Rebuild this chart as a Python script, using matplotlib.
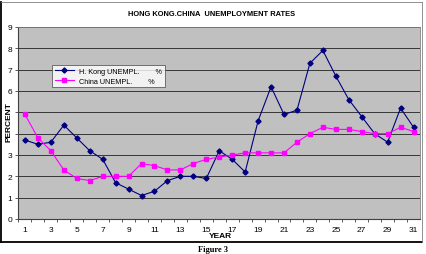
import matplotlib
matplotlib.use("Agg")
import matplotlib.pyplot as plt
from matplotlib.lines import Line2D

years = list(range(1, 32))
hk = [3.7, 3.5, 3.6, 4.4, 3.8, 3.2, 2.8, 1.7, 1.4, 1.1, 1.3, 1.8, 2.0, 2.0, 1.9,
      3.2, 2.8, 2.2, 4.6, 6.2, 4.9, 5.1, 7.3, 7.9, 6.7, 5.6, 4.8, 4.0, 3.6, 5.2, 4.3]
china = [4.9, 3.8, 3.2, 2.3, 1.9, 1.8, 2.0, 2.0, 2.0, 2.6, 2.5, 2.3, 2.3, 2.6, 2.8,
         2.9, 3.0, 3.1, 3.1, 3.1, 3.1, 3.6, 4.0, 4.3, 4.2, 4.2, 4.1, 4.0, 4.0, 4.3, 4.1]
xtick_labels = [str(v) for v in range(1, 32, 2)]
yticks = list(range(0, 10))
# labels 4 and 5 are covered by the axis title in the reference
ytick_labels = ['0', '1', '2', '3', '', '', '6', '7', '8', '9']

plt.rcParams['font.family'] = ['Liberation Sans', 'DejaVu Sans']

W, H = 427, 255
fig = plt.figure(figsize=(W / 100, H / 100), dpi=100)
fig.patch.set_facecolor('white')

def px(x0, y0, x1, y1):
    return [x0 / W, 1 - y1 / H, (x1 - x0) / W, (y1 - y0) / H]

ax = fig.add_axes(px(18.5, 28, 420, 220))
ax.set_facecolor('#C0C0C0')

ax.plot(years, hk, color='#000080', marker='D', markersize=2.6, linewidth=0.8,
        label='H. Kong UNEMPL.        %', zorder=3)
ax.plot(years, china, color='#FF00FF', marker='s', markersize=2.8, linewidth=0.8,
        label='China UNEMPL.        %', zorder=3)

ax.set_xlim(0.5, 31.5)
ax.set_ylim(0, 9)
ax.set_yticks(yticks)
ax.set_yticklabels(ytick_labels, fontsize=6)
ax.set_xticks(list(range(1, 32, 2)))
ax.set_xticklabels(xtick_labels, fontsize=6)
ax.set_xticks([v + 0.5 for v in range(0, 31)], minor=True)
ax.tick_params(axis='x', which='major', length=0, pad=5)
ax.tick_params(axis='x', which='minor', length=2.5, width=0.6, color='#404040', direction='out')
ax.tick_params(axis='y', length=2.5, width=0.6, color='#404040', pad=2)

for v in range(1, 10):
    ax.axhline(v, color='#202020', linewidth=0.6, zorder=1)

for side in ['top', 'right']:
    ax.spines[side].set_color('#808080')
    ax.spines[side].set_linewidth(0.6)
for side in ['left', 'bottom']:
    ax.spines[side].set_color('#404040')
    ax.spines[side].set_linewidth(0.8)

leg = ax.legend(loc='upper left', bbox_to_anchor=((52 - 18.5) / 401.5, (220 - 66) / 192),
                fontsize=5.2, frameon=True, fancybox=False, borderpad=0.4,
                handlelength=2.6, labelspacing=0.35, borderaxespad=0)
leg.get_frame().set_edgecolor('#404040')
leg.get_frame().set_linewidth(0.6)
leg.get_frame().set_facecolor('white')

fig.text(212 / W, 1 - 15 / H, 'HONG KONG.CHINA  UNEMPLOYMENT RATES', ha='center', va='center',
         fontsize=5.4, fontweight='bold')
fig.text(220 / W, 1 - 237 / H, 'YEAR', ha='center', va='center', fontsize=6, fontweight='bold')
fig.text(9 / W, 1 - 122 / H, 'PERCENT', ha='center', va='center', rotation=90,
         fontsize=6, fontweight='bold')
fig.text(213 / W, 1 - 250 / H, 'Figure 3', ha='center', va='center', fontsize=6,
         fontweight='bold', family=['Liberation Serif', 'DejaVu Serif'])

# outer chart border
fig.add_artist(Line2D([1.5 / W, 1.5 / W], [1 - 3 / H, 1 - 243 / H], color='black', linewidth=1.3))
fig.add_artist(Line2D([1.5 / W, 422 / W], [1 - 243 / H, 1 - 243 / H], color='black', linewidth=1.3))
fig.add_artist(Line2D([1.5 / W, 422 / W], [1 - 3 / H, 1 - 3 / H], color='#808080', linewidth=0.6))
fig.add_artist(Line2D([422 / W, 422 / W], [1 - 3 / H, 1 - 243 / H], color='#808080', linewidth=0.6))

fig.savefig('out.png', dpi=100, facecolor='white')
